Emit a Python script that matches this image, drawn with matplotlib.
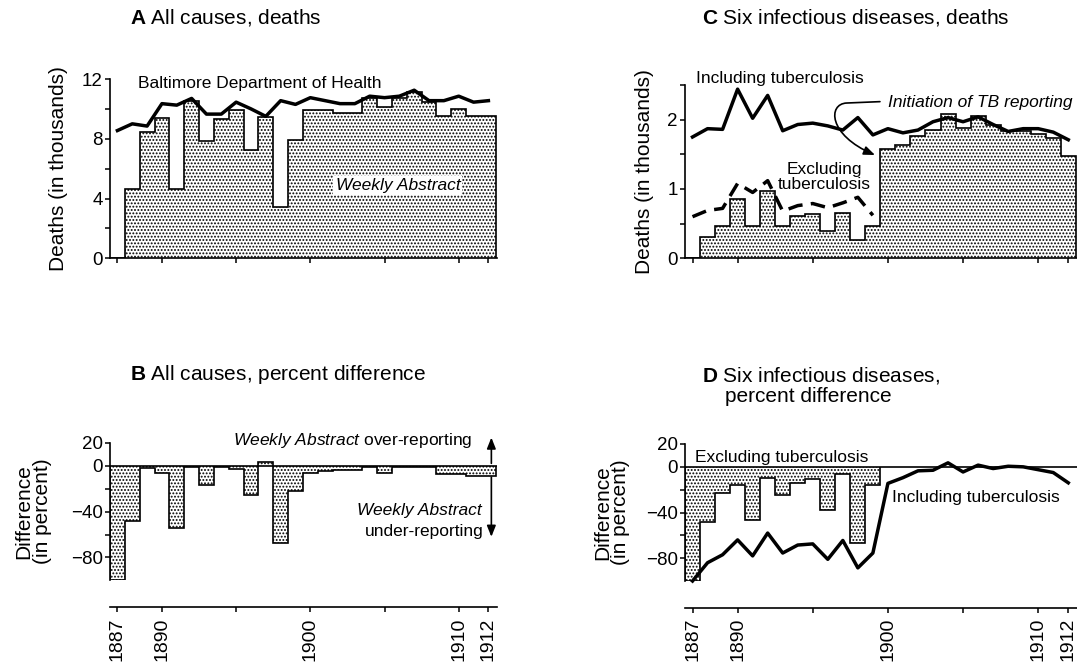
import matplotlib.pyplot as plt
import numpy as np
from matplotlib.patches import FancyArrowPatch
from matplotlib.path import Path

plt.rcParams['font.family'] = ['Liberation Sans', 'DejaVu Sans']
plt.rcParams['mathtext.fontset'] = 'custom'
plt.rcParams['mathtext.rm'] = 'Liberation Sans'
plt.rcParams['mathtext.it'] = 'Liberation Sans:italic'
plt.rcParams['mathtext.bf'] = 'Liberation Sans:bold'
plt.rcParams['hatch.linewidth'] = 0.9

# Baltimore, 1887-1912
YEARS = np.arange(1887, 1913)
YEARS_PRE_TB = np.arange(1887, 1900)

# All causes, deaths (thousands)
HEALTH_DEPT_ALL = [8.55, 9.0, 8.85, 10.35, 10.25, 10.7, 9.65, 9.65, 10.45, 10.0,
                   9.5, 10.55, 10.3, 10.75, 10.55, 10.35, 10.35, 10.85, 10.75,
                   10.85, 11.25, 10.55, 10.55, 10.85, 10.45, 10.55]
WEEKLY_ABSTRACT_ALL = [0, 4.65, 8.45, 9.4, 4.65, 10.5, 7.85, 9.3, 9.95, 7.25,
                       9.45, 3.45, 7.9, 9.95, 9.9, 9.75, 9.75, 10.75, 10.1,
                       10.75, 11.15, 10.45, 9.5, 10.0, 9.5, 9.5]

# All causes, percent difference
PCT_DIFF_ALL = [-100, -48, -2, -6, -54, -1, -17, -1.5, -2.5, -26, 3, -67, -22,
                -6, -5, -4, -3.5, -1, -6, -1, -1, -1, -7, -7, -9, -9]

# Six infectious diseases, deaths (thousands)
HEALTH_DEPT_SIX_INCL_TB = [1.75, 1.87, 1.86, 2.44, 2.02, 2.35, 1.84, 1.93, 1.95,
                           1.91, 1.85, 2.03, 1.78, 1.87, 1.81, 1.85, 1.97, 2.03,
                           1.97, 2.04, 1.93, 1.83, 1.87, 1.87, 1.82, 1.71]
HEALTH_DEPT_SIX_EXCL_TB = [0.60, 0.69, 0.72, 1.08, 0.95, 1.12, 0.68, 0.76, 0.79,
                           0.73, 0.80, 0.88, 0.62]
WEEKLY_ABSTRACT_SIX = [0, 0.31, 0.47, 0.86, 0.46, 0.97, 0.46, 0.61, 0.64, 0.40,
                       0.65, 0.26, 0.46, 1.58, 1.64, 1.76, 1.85, 2.08, 1.88,
                       2.05, 1.92, 1.83, 1.84, 1.80, 1.74, 1.47]

# Six infectious diseases, percent difference
PCT_DIFF_SIX_EXCL_TB = [-100, -48, -22.5, -16, -46.5, -10, -24.5, -14, -11,
                        -38, -6, -67, -15.5]
PCT_DIFF_SIX_INCL_TB = [-100, -84, -77, -64, -78, -58, -75.5, -68.5, -67.5, -81,
                        -64.5, -88.5, -75.5, -14.5, -9.5, -3.5, -3, 3.5, -4.5,
                        1.5, -1.5, 0.5, 0, -2.5, -5, -14]

XTICKS = [1887, 1890, 1895, 1900, 1905, 1910, 1912]
XTICK_LABELS = ['1887', '1890', '', '1900', '', '1910', '1912']
XLIM = (1886.5, 1912.58)

W, H = 1077, 664
TICK_FS = 13.5
YEAR_FS = 14
LABEL_FS = 15
NOTE_FS = 12.5


def px_box(left, top, right, bottom):
    return [left / W, 1 - bottom / H, (right - left) / W, (bottom - top) / H]


def stipple_bars(ax, years, values):
    edges = np.append(years - 0.5, years[-1] + 0.5)
    ax.stairs(values, edges, baseline=0, fill=True, facecolor='white',
              edgecolor='black', linewidth=0, hatch='.....', zorder=1)
    ax.stairs(values, edges, baseline=0, fill=False, color='black',
              linewidth=1.2, zorder=2)


def style_axes(ax, ylim, yticks, ylabels, years_below=False):
    ax.set_xlim(*XLIM)
    ax.set_ylim(*ylim)
    for side in ('top', 'right'):
        ax.spines[side].set_visible(False)
    for side in ('left', 'bottom'):
        ax.spines[side].set_linewidth(1.2)
    ax.set_yticks(yticks, ylabels)
    ax.set_xticks(XTICKS)
    ax.tick_params(direction='out', length=3.6, width=1.1, labelsize=TICK_FS)
    ax.tick_params(axis='y', pad=1.5)
    if years_below:
        ax.spines['bottom'].set_position(('outward', 19.5))
        ax.set_xticklabels(XTICK_LABELS, rotation=90, fontsize=YEAR_FS)
    else:
        ax.set_xticklabels([])


fig = plt.figure(figsize=(W / 100, H / 100), dpi=100)
ax_a = fig.add_axes(px_box(110, 79, 497, 258.3))
ax_b = fig.add_axes(px_box(110, 442.7, 497, 580.4))
ax_c = fig.add_axes(px_box(685, 85, 1077, 258.3))
ax_d = fig.add_axes(px_box(685, 444, 1077, 581))

# A: all causes, deaths
stipple_bars(ax_a, YEARS, WEEKLY_ABSTRACT_ALL)
ax_a.plot(YEARS, HEALTH_DEPT_ALL, color='black', lw=2.5, zorder=3,
          solid_joinstyle='round', clip_on=False)
style_axes(ax_a, (0, 12), range(0, 13, 2), ['0', '', '4', '', '8', '', '12'])
ax_a.set_ylabel('Deaths (in thousands)', fontsize=LABEL_FS)
ax_a.yaxis.set_label_coords(-0.109, 0.5)
ax_a.text(1888.4, 11.73, 'Baltimore Department of Health', fontsize=NOTE_FS,
          ha='left', va='center')
ax_a.text(1905.9, 4.9, 'Weekly Abstract', fontsize=NOTE_FS, style='italic',
          ha='center', va='center', zorder=4,
          bbox=dict(facecolor='white', edgecolor='none', pad=1.5))

# B: all causes, percent difference
stipple_bars(ax_b, YEARS, PCT_DIFF_ALL)
ax_b.axhline(0, color='black', lw=1.2, zorder=2)
style_axes(ax_b, (-100, 20), [20, 0, -20, -40, -60, -80],
           ['20', '0', '', '\u221240', '', '\u221280'], years_below=True)
ax_b.set_ylabel('Difference\n(in percent)', fontsize=LABEL_FS, linespacing=0.95)
ax_b.yaxis.set_label_coords(-0.151, 0.5)
ax_b.text(1910.94, 21.7, r'$\mathit{Weekly\ Abstract}$ over-reporting',
          fontsize=NOTE_FS, ha='right', va='center')
ax_b.text(1911.55, -39, 'Weekly Abstract', fontsize=NOTE_FS, style='italic',
          ha='right', va='center')
ax_b.text(1911.65, -57.2, 'under-reporting', fontsize=NOTE_FS,
          ha='right', va='center')
head = dict(arrowstyle='-|>,head_length=0.55,head_width=0.22', lw=1.2,
            color='black', shrinkA=0, shrinkB=0, mutation_scale=12)
ax_b.annotate('', xy=(1912.2, 24.5), xytext=(1912.2, 2), arrowprops=head,
              annotation_clip=False)
ax_b.annotate('', xy=(1912.2, -62), xytext=(1912.2, -10), arrowprops=head,
              annotation_clip=False)

# C: six infectious diseases, deaths
stipple_bars(ax_c, YEARS, WEEKLY_ABSTRACT_SIX)
ax_c.plot(YEARS, HEALTH_DEPT_SIX_INCL_TB, color='black', lw=2.5, zorder=3,
          solid_joinstyle='round', clip_on=False)
ax_c.plot(YEARS_PRE_TB, HEALTH_DEPT_SIX_EXCL_TB, color='black', lw=2.5,
          linestyle=(0, (4.2, 2.4)), zorder=3)
style_axes(ax_c, (0, 2.5), np.arange(0, 2.6, 0.5), ['0', '', '1', '', '2', ''])
ax_c.set_ylabel('Deaths (in thousands)', fontsize=LABEL_FS)
ax_c.yaxis.set_label_coords(-0.080, 0.5)
ax_c.text(1887.25, 2.6, 'Including tuberculosis', fontsize=NOTE_FS,
          ha='left', va='center')
ax_c.text(1895.75, 1.18, 'Excluding\ntuberculosis', fontsize=NOTE_FS,
          ha='center', va='center', linespacing=1.0)
ax_c.text(1900.0, 2.25, 'Initiation of TB reporting', fontsize=NOTE_FS,
          style='italic', ha='left', va='center')
leader = Path([(1899.47, 2.26), (1897.26, 2.24), (1896.0, 2.23),
               (1896.0, 1.78), (1899.14, 1.49)],
              [Path.MOVETO, Path.LINETO, Path.CURVE4, Path.CURVE4, Path.CURVE4])
ax_c.add_patch(FancyArrowPatch(path=leader, transform=ax_c.transData,
                               arrowstyle='-|>,head_length=0.55,head_width=0.22',
                               mutation_scale=12, lw=1.2, color='black',
                               zorder=4))

# D: six infectious diseases, percent difference
stipple_bars(ax_d, YEARS_PRE_TB, PCT_DIFF_SIX_EXCL_TB)
ax_d.axhline(0, color='black', lw=1.2, zorder=2)
ax_d.plot(YEARS, PCT_DIFF_SIX_INCL_TB, color='black', lw=2.5, zorder=3,
          solid_joinstyle='round', clip_on=False)
style_axes(ax_d, (-100, 20), [20, 0, -20, -40, -60, -80],
           ['20', '0', '', '\u221240', '', '\u221280'], years_below=True)
ax_d.set_ylabel('Difference\n(in percent)', fontsize=LABEL_FS, linespacing=0.95)
ax_d.yaxis.set_label_coords(-0.140, 0.5)
ax_d.text(1887.17, 8.5, 'Excluding tuberculosis', fontsize=NOTE_FS,
          ha='left', va='center')
ax_d.text(1900.3, -26.5, 'Including tuberculosis', fontsize=NOTE_FS,
          ha='left', va='center')

# panel titles
fig.text(130 / W, 1 - 18 / H, r'$\mathbf{A}$ All causes, deaths',
         fontsize=LABEL_FS, ha='left', va='center')
fig.text(130 / W, 1 - 374 / H, r'$\mathbf{B}$ All causes, percent difference',
         fontsize=LABEL_FS, ha='left', va='center')
fig.text(702 / W, 1 - 18 / H, r'$\mathbf{C}$ Six infectious diseases, deaths',
         fontsize=LABEL_FS, ha='left', va='center')
fig.text(702 / W, 1 - 375 / H, r'$\mathbf{D}$ Six infectious diseases,',
         fontsize=LABEL_FS, ha='left', va='center')
fig.text(725 / W, 1 - 397 / H, 'percent difference',
         fontsize=LABEL_FS, ha='left', va='center')

fig.savefig('out.png', dpi=100, facecolor='white')
